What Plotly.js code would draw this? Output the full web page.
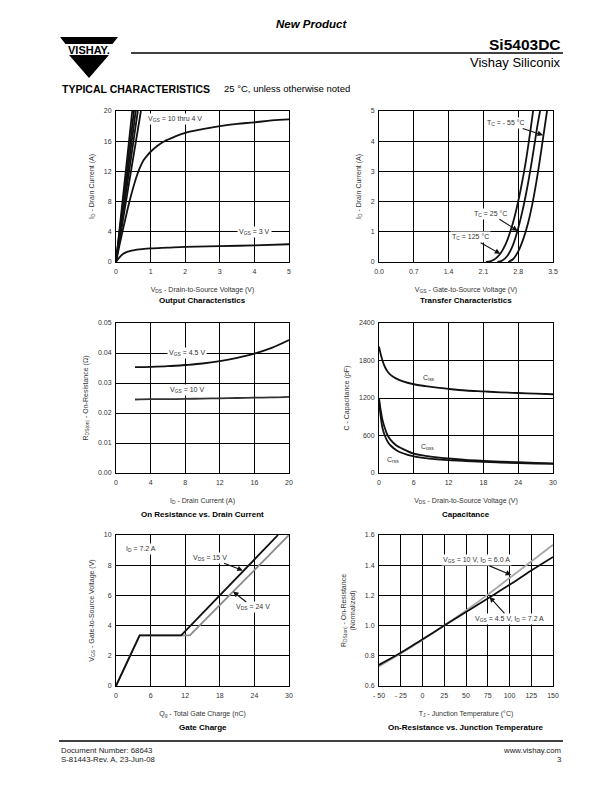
<!DOCTYPE html>
<html><head><meta charset="utf-8">
<script src="https://cdn.plot.ly/plotly-3.0.1.min.js"></script>
<style>html,body{margin:0;padding:0;background:#fff}</style>
</head><body><div id="chart" style="width:612px;height:792px"></div>
<script>
// ---------------- DATA ----------------
// Output Characteristics (ID vs VDS)
const outHighVdsEnd = [0.47, 0.52, 0.57, 0.63, 0.72];   // VGS = 10 ... 5 V lines reach 20 A at these VDS
const outHighId = [0, 20];
const outVds4 = [0, 0.1, 0.2, 0.3, 0.4, 0.5, 0.6, 0.7, 0.8, 0.9, 1.0, 1.2, 1.4, 1.7, 2.0, 2.5, 3.0, 3.5, 4.0, 4.5, 5.0];
const outId4  = [0, 2.2, 4.3, 6.3, 8.2, 9.9, 11.4, 12.6, 13.5, 14.1, 14.6, 15.4, 16.0, 16.6, 17.1, 17.6, 18.0, 18.3, 18.5, 18.75, 18.9];
const outVds3 = [0, 0.1, 0.2, 0.3, 0.4, 0.5, 0.75, 1.0, 1.5, 2.0, 3.0, 4.0, 5.0];
const outId3  = [0, 0.6, 1.05, 1.3, 1.45, 1.55, 1.7, 1.8, 1.9, 2.0, 2.1, 2.2, 2.35];

// Transfer Characteristics (ID vs VGS)
const trVgs125 = [2.15, 2.25, 2.35, 2.45, 2.55, 2.65, 2.75, 2.85, 2.95, 3.05, 3.1];
const trId125  = [0, 0.03, 0.12, 0.3, 0.6, 1.05, 1.65, 2.4, 3.3, 4.4, 5.0];
const trVgs25  = [2.38, 2.48, 2.58, 2.68, 2.78, 2.88, 2.98, 3.08, 3.18, 3.24];
const trId25   = [0, 0.05, 0.2, 0.5, 1.0, 1.65, 2.45, 3.4, 4.45, 5.0];
const trVgsM55 = [2.6, 2.7, 2.8, 2.9, 3.0, 3.1, 3.2, 3.3, 3.38];
const trIdM55  = [0, 0.1, 0.35, 0.75, 1.3, 2.05, 3.0, 4.1, 5.0];

// On-Resistance vs Drain Current
const ronId    = [2.2, 4, 6, 8, 10, 12, 14, 16, 18, 20];
const ron45    = [0.0353, 0.0354, 0.0356, 0.036, 0.0365, 0.0373, 0.0384, 0.0398, 0.0417, 0.0443];
const ron10    = [0.0245, 0.0246, 0.0246, 0.0247, 0.0248, 0.0249, 0.025, 0.0251, 0.0252, 0.0254];

// Capacitance
const capVds = [0, 0.3, 0.6, 1, 1.5, 2, 3, 4, 6, 8, 10, 12, 15, 18, 21, 24, 27, 30];
const capCiss = [2020, 1900, 1800, 1700, 1620, 1570, 1510, 1470, 1420, 1390, 1365, 1345, 1320, 1305, 1290, 1280, 1270, 1260];
const capCoss = [1200, 1000, 850, 720, 600, 530, 440, 390, 310, 275, 250, 232, 210, 195, 182, 172, 163, 155];
const capCrss = [1150, 900, 720, 600, 500, 440, 365, 320, 265, 238, 220, 205, 190, 177, 167, 158, 150, 145];

// Gate Charge
const gcQg15  = [0, 4.1, 11.3, 28.1];
const gcVgs15 = [0, 3.35, 3.35, 10];
const gcQg24  = [0, 4.1, 12.8, 30];
const gcVgs24 = [0, 3.35, 3.35, 10];

// On-Resistance vs Junction Temperature (normalized)
const tjTemp   = [-50, -25, 0, 25, 50, 75, 100, 125, 150];
const tjRon10  = [0.73, 0.815, 0.905, 1.0, 1.1, 1.205, 1.315, 1.425, 1.535];
const tjRon45  = [0.74, 0.82, 0.91, 1.0, 1.09, 1.18, 1.27, 1.365, 1.455];

// Tick labels
const tjTickVals = [-50, -25, 0, 25, 50, 75, 100, 125, 150];
const tjTickText = ['- 50', '- 25', '0', '25', '50', '75', '100', '125', '150'];

// ---------------- LAYOUT HELPERS ----------------
const W = 612, H = 792;
const px = x => x / W;
const py = y => 1 - y / H;
const FONT = 'Liberation Sans, Arial, Helvetica, sans-serif';
const colL = [116, 289], colR = [379, 553];
const rows = [[111, 262], [323, 473], [535, 686]];
const TICKF = {family: FONT, size: 7, color: '#333'};
const TITF = {family: FONT, size: 7, color: '#333'};

function xAx(col, range, dtick, title, extra) {
  return Object.assign({
    domain: [px(col[0]), px(col[1])], range: range, dtick: dtick, tick0: range[0],
    showgrid: true, gridcolor: '#000', gridwidth: 1, showline: true, mirror: true,
    linecolor: '#000', linewidth: 1, zeroline: false, ticks: '', ticklabelstandoff: 3,
    tickfont: TICKF,
    title: {text: title, font: TITF, standoff: 12},
    fixedrange: true
  }, extra || {});
}
function yAx(row, range, dtick, title, extra) {
  return Object.assign({
    domain: [py(row[1]), py(row[0])], range: range, dtick: dtick, tick0: range[0],
    showgrid: true, gridcolor: '#000', gridwidth: 1, showline: true, mirror: true,
    linecolor: '#000', linewidth: 1, zeroline: false, ticks: '', ticklabelstandoff: 2,
    tickfont: TICKF,
    title: {text: title, font: TITF, standoff: 8},
    fixedrange: true
  }, extra || {});
}
const LW = 1.8;
function tr(x, y, xa, ya, color, shape) {
  return {x: x, y: y, xaxis: xa, yaxis: ya, mode: 'lines', hoverinfo: 'skip',
          line: {color: color || '#111', width: LW, shape: shape || 'spline'}};
}

// ---------------- TRACES ----------------
const traces = [];
outHighVdsEnd.forEach(v => traces.push(tr([0, v], outHighId, 'x', 'y', '#111', 'linear')));
traces.push(tr(outVds4, outId4, 'x', 'y'));
traces.push(tr(outVds3, outId3, 'x', 'y'));

traces.push(tr(trVgs125, trId125, 'x2', 'y2'));
traces.push(tr(trVgs25, trId25, 'x2', 'y2'));
traces.push(tr(trVgsM55, trIdM55, 'x2', 'y2'));

traces.push(tr(ronId, ron45, 'x3', 'y3'));
traces.push(tr(ronId, ron10, 'x3', 'y3', '#333'));

traces.push(tr(capVds, capCiss, 'x4', 'y4'));
traces.push(tr(capVds, capCoss, 'x4', 'y4'));
traces.push(tr(capVds, capCrss, 'x4', 'y4'));

traces.push(tr(gcQg24, gcVgs24, 'x5', 'y5', '#8a8a8a', 'linear'));
traces.push(tr(gcQg15, gcVgs15, 'x5', 'y5', '#111', 'linear'));

traces.push(tr(tjTemp, tjRon10, 'x6', 'y6', '#a8a8a8'));
traces.push(tr(tjTemp, tjRon45, 'x6', 'y6', '#111'));

// ---------------- ANNOTATIONS ----------------
const tf = {family: FONT, size: 7, color: '#333'};
function lab(xr, yr, x, y, text, opt) {
  return Object.assign({xref: xr, yref: yr, x: x, y: y, text: text, showarrow: false,
    xanchor: 'center', yanchor: 'middle',
    font: tf, bgcolor: 'rgba(255,255,255,1)', borderpad: 1}, opt || {});
}
function arr(xr, yr, x, y, ax, ay, text, opt) {
  return Object.assign({xref: xr, yref: yr, x: x, y: y, axref: xr, ayref: yr, ax: ax, ay: ay,
    text: text, showarrow: true, arrowhead: 2, arrowsize: 1, arrowwidth: 1.1, arrowcolor: '#111',
    font: tf, bgcolor: 'rgba(255,255,255,1)', borderpad: 1, standoff: 0}, opt || {});
}
function paperText(x, y, text, size, opt) {
  return Object.assign({xref: 'paper', yref: 'paper', x: px(x), y: py(y), text: text, showarrow: false,
    xanchor: 'center', yanchor: 'middle',
    font: {family: FONT, size: size, color: '#000'}}, opt || {});
}
const FOOTF = {family: FONT, size: 7.8, color: '#222'};
const ann = [
  lab('x', 'y', 1.7, 18.9, 'V<sub>GS</sub> = 10 thru 4 V'),
  lab('x', 'y', 4.0, 4.0, 'V<sub>GS</sub> = 3 V'),
  arr('x2', 'y2', 3.3, 4.2, 2.55, 4.6, 'T<sub>C</sub> = - 55 °C'),
  arr('x2', 'y2', 2.79, 1.03, 2.25, 1.6, 'T<sub>C</sub> = 25 °C'),
  arr('x2', 'y2', 2.44, 0.27, 1.85, 0.82, 'T<sub>C</sub> = 125 °C'),
  lab('x3', 'y3', 8.2, 0.040, 'V<sub>GS</sub> = 4.5 V'),
  lab('x3', 'y3', 8.2, 0.0278, 'V<sub>GS</sub> = 10 V'),
  lab('x4', 'y4', 8.7, 1520, 'C<sub>iss</sub>', {bgcolor: 'rgba(0,0,0,0)'}),
  lab('x4', 'y4', 8.4, 410, 'C<sub>oss</sub>', {bgcolor: 'rgba(0,0,0,0)'}),
  lab('x4', 'y4', 2.4, 215, 'C<sub>rss</sub>', {bgcolor: 'rgba(0,0,0,0)'}),
  lab('x5', 'y5', 1.4, 9.05, 'I<sub>D</sub> = 7.2 A', {xanchor: 'left'}),
  arr('x5', 'y5', 22.0, 7.65, 16.3, 8.5, 'V<sub>DS</sub> = 15 V'),
  arr('x5', 'y5', 20.3, 6.25, 23.8, 5.2, 'V<sub>DS</sub> = 24 V'),
  arr('x6', 'y6', 102, 1.335, 62, 1.432, 'V<sub>GS</sub> = 10 V, I<sub>D</sub> = 6.0 A'),
  arr('x6', 'y6', 77, 1.19, 100, 1.045, 'V<sub>GS</sub> = 4.5 V, I<sub>D</sub> = 7.2 A'),
  // chart titles
  paperText((colL[0] + colL[1]) / 2, 301, '<b>Output Characteristics</b>', 8),
  paperText((colR[0] + colR[1]) / 2, 301, '<b>Transfer Characteristics</b>', 8),
  paperText((colL[0] + colL[1]) / 2, 514, '<b>On Resistance vs. Drain Current</b>', 8),
  paperText((colR[0] + colR[1]) / 2, 514, '<b>Capacitance</b>', 8),
  paperText((colL[0] + colL[1]) / 2, 727, '<b>Gate Charge</b>', 8),
  paperText((colR[0] + colR[1]) / 2, 727, '<b>On-Resistance vs. Junction Temperature</b>', 8),
  // header
  paperText(311, 24, '<b><i>New Product</i></b>', 11.5),
  paperText(563, 44, '<b>Si5403DC</b>', 15.5, {xanchor: 'right'}),
  paperText(563, 62, 'Vishay Siliconix', 13, {xanchor: 'right'}),
  paperText(60, 89, '<b>TYPICAL CHARACTERISTICS</b>', 10.5, {xanchor: 'left'}),
  paperText(222, 89, '25 °C, unless otherwise noted', 9.5, {xanchor: 'left'}),
  paperText(89, 49.5, '<b>VISHAY.</b>', 11, {xanchor: 'center'}),
  // footer
  paperText(59, 750, 'Document Number: 68643', 7.8, {xanchor: 'left', font: FOOTF}),
  paperText(59, 759, 'S-81443-Rev. A, 23-Jun-08', 7.8, {xanchor: 'left', font: FOOTF}),
  paperText(563, 750, 'www.vishay.com', 7.8, {xanchor: 'right', font: FOOTF}),
  paperText(563, 759, '3', 7.8, {xanchor: 'right', font: FOOTF})
];

// ---------------- SHAPES (page decoration) ----------------
function path(pts) {
  return 'M ' + pts.map(p => px(p[0]) + ',' + py(p[1])).join(' L ') + ' Z';
}
const shapes = [
  {type: 'path', xref: 'paper', yref: 'paper', path: path([[60, 37], [118, 37], [112.5, 44], [65.5, 44]]),
   fillcolor: '#000', line: {width: 0}},
  {type: 'path', xref: 'paper', yref: 'paper', path: path([[69, 55], [109, 55], [89, 78]]),
   fillcolor: '#000', line: {width: 0}},
  {type: 'line', xref: 'paper', yref: 'paper', x0: px(131), x1: px(563), y0: py(53), y1: py(53),
   line: {color: '#000', width: 1.3}},
  {type: 'line', xref: 'paper', yref: 'paper', x0: px(59), x1: px(563), y0: py(741), y1: py(741),
   line: {color: '#000', width: 1.3}}
];

const layout = {
  width: W, height: H, margin: {l: 0, r: 0, t: 0, b: 0},
  paper_bgcolor: '#fff', plot_bgcolor: '#fff', showlegend: false,
  font: {family: FONT, color: '#333'},
  xaxis:  xAx(colL, [0, 5], 1, 'V<sub>DS</sub> - Drain-to-Source Voltage (V)', {anchor: 'y'}),
  yaxis:  yAx(rows[0], [0, 20], 4, 'I<sub>D</sub> - Drain Current (A)', {anchor: 'x'}),
  xaxis2: xAx(colR, [0, 3.5], 0.7, 'V<sub>GS</sub> - Gate-to-Source Voltage (V)', {anchor: 'y2', tickformat: '.1f'}),
  yaxis2: yAx(rows[0], [0, 5], 1, 'I<sub>D</sub> - Drain Current (A)', {anchor: 'x2'}),
  xaxis3: xAx(colL, [0, 20], 4, 'I<sub>D</sub> - Drain Current (A)', {anchor: 'y3'}),
  yaxis3: yAx(rows[1], [0, 0.05], 0.01, 'R<sub>DS(on)</sub> - On-Resistance (Ω)', {anchor: 'x3', tickformat: '.2f'}),
  xaxis4: xAx(colR, [0, 30], 6, 'V<sub>DS</sub> - Drain-to-Source Voltage (V)', {anchor: 'y4'}),
  yaxis4: yAx(rows[1], [0, 2400], 600, 'C - Capacitance (pF)', {anchor: 'x4', tickformat: 'd'}),
  xaxis5: xAx(colL, [0, 30], 6, 'Q<sub>g</sub> - Total Gate Charge (nC)', {anchor: 'y5'}),
  yaxis5: yAx(rows[2], [0, 10], 2, 'V<sub>GS</sub> - Gate-to-Source Voltage (V)', {anchor: 'x5'}),
  xaxis6: xAx(colR, [-50, 150], 25, 'T<sub>J</sub> - Junction Temperature (°C)', {anchor: 'y6', tickmode: 'array', tickvals: tjTickVals, ticktext: tjTickText}),
  yaxis6: yAx(rows[2], [0.6, 1.6], 0.2, 'R<sub>DS(on)</sub> - On-Resistance<br>(Normalized)', {anchor: 'x6', tickformat: '.1f'}),
  annotations: ann,
  shapes: shapes
};

Plotly.newPlot('chart', traces, layout, {staticPlot: true, displayModeBar: false});
</script>
</body></html>
